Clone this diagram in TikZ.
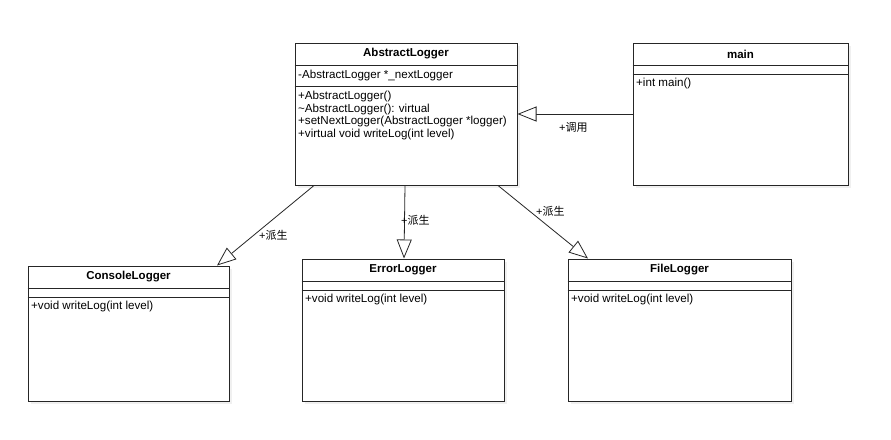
\documentclass[tikz,border=0pt]{standalone}
\usepackage{fontspec}
\setmainfont{Liberation Sans}
\newfontfamily\cjk{Noto Sans CJK SC}
\usetikzlibrary{arrows.meta}
\tikzset{
  box/.style={draw=black!85, line width=1pt, fill=white, inner sep=0pt},
  shadowbox/.style={fill=black!6, draw=none, inner sep=0pt},
  ttl/.style={font=\fontsize{11.5}{13}\selectfont\bfseries, inner sep=0pt},
  mem/.style={font=\fontsize{11.6}{12.6}\selectfont, anchor=west, align=left, inner sep=0pt},
  lbl/.style={font=\fontsize{11}{13}\selectfont, anchor=west, inner sep=0pt},
  sep/.style={draw=black!85, line width=1pt},
  inh/.style={draw=black!85, line width=0.8pt, -{Triangle[open, length=19pt, width=15pt, fill=white]}}
}
\begin{document}
\begin{tikzpicture}[x=1pt, y=-1pt]
\useasboundingbox[fill=white] (0,0) rectangle (891,439);
% shadows
\foreach \cx/\cy/\w/\h in {406/114/222/142, 740.5/114/215/142, 128.5/333.5/201/135, 403/330/202/142, 679.5/330/223/142}{
  \node[shadowbox, minimum width=\w pt, minimum height=\h pt] at (\cx+3,\cy+3) {};
}
% boxes
\node[box, minimum width=222pt, minimum height=142pt] (abs) at (406,114) {};
\node[box, minimum width=215pt, minimum height=142pt] (main) at (740.5,114) {};
\node[box, minimum width=201pt, minimum height=135pt] (con) at (128.5,333.5) {};
\node[box, minimum width=202pt, minimum height=142pt] (err) at (403,330) {};
\node[box, minimum width=223pt, minimum height=142pt] (fil) at (679.5,330) {};
% separators
\draw[sep] (abs.west |- 0,65) -- (abs.east |- 0,65);
\draw[sep] (abs.west |- 0,86) -- (abs.east |- 0,86);
\draw[sep] (main.west |- 0,65) -- (main.east |- 0,65);
\draw[sep] (main.west |- 0,74) -- (main.east |- 0,74);
\draw[sep] (con.west |- 0,288) -- (con.east |- 0,288);
\draw[sep] (con.west |- 0,297) -- (con.east |- 0,297);
\draw[sep] (err.west |- 0,281) -- (err.east |- 0,281);
\draw[sep] (err.west |- 0,290) -- (err.east |- 0,290);
\draw[sep] (fil.west |- 0,281) -- (fil.east |- 0,281);
\draw[sep] (fil.west |- 0,290) -- (fil.east |- 0,290);
% titles
\node[ttl] (absT) at (406,54) {AbstractLogger};
\node[ttl] (mainT) at (740.5,54) {main};
\node[ttl] (conT) at (128.5,277) {ConsoleLogger};
\node[ttl] (errT) at (403,270) {ErrorLogger};
\node[ttl] (filT) at (679.5,270) {FileLogger};
% members
\node[mem] (absA) at (298,75) {-AbstractLogger *\_nextLogger};
\node[mem, anchor=north west] (absM) at (298,91) {+AbstractLogger()\\\textasciitilde AbstractLogger(): virtual\\+setNextLogger(AbstractLogger *logger)\\+virtual void writeLog(int level)};
\node[mem] (mainM) at (636,83) {+int main()};
\node[mem] (conM) at (31,306) {+void writeLog(int level)};
\node[mem] (errM) at (305,299) {+void writeLog(int level)};
\node[mem] (filM) at (571,299) {+void writeLog(int level)};
% connectors
\draw[inh] (main.west |- 0,114) -- (abs.east |- 0,114);
\draw[inh] (abs.south -| 314,0) -- (con.north -| 217,0);
\draw[inh] (abs.south -| 405,0) -- (err.north -| 404,0);
\draw[inh] (abs.south -| 498,0) -- (fil.north -| 588,0);
% labels
\node[lbl] (l1) at (559,127) {+{\cjk 调用}};
\node[lbl] (l2) at (259,235) {+{\cjk 派生}};
\node[lbl] (l3) at (401,220) {+{\cjk 派生}};
\node[lbl] (l4) at (536,211) {+{\cjk 派生}};
\end{tikzpicture}
\end{document}
